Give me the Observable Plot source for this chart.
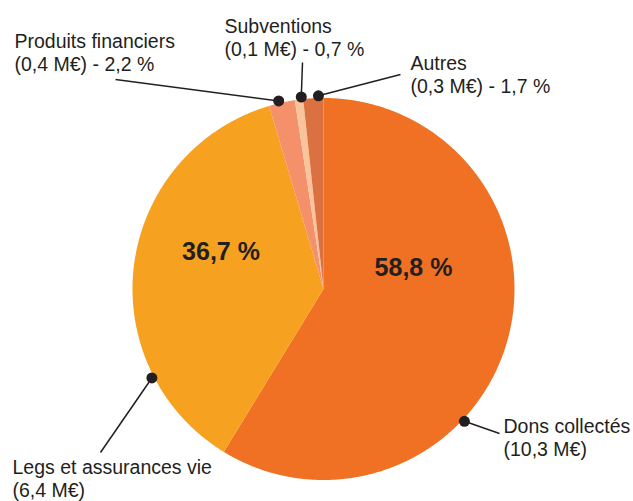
<!DOCTYPE html>
<html><head><meta charset="utf-8">
<script src="https://cdn.jsdelivr.net/npm/d3@7"></script>
<script src="https://cdn.jsdelivr.net/npm/@observablehq/plot@0.6"></script>
<style>html,body{margin:0;padding:0;background:#fff}</style>
</head><body><div id="chart"></div>
<script>
// ---- Data ----
const categories = ["Dons collectés", "Legs et assurances vie", "Produits financiers", "Subventions", "Autres"];
const amounts = ["10,3", "6,4", "0,4", "0,1", "0,3"];          // M€
const percents = [58.8, 36.7, 2.2, 0.7, 1.7];                   // %
const showPercentInLabel = [false, false, true, true, true];
const showPercentInside = [true, true, false, false, false];

// ---- Style / layout ----
const colors = ["#F07124", "#F6A11F", "#F4916B", "#F9C49C", "#DB7140"];
const W = 633, H = 501, CX = 323, CY = 288.5, R = 191;
const ink = "#231F20";
// pixel layout of annotations (anchor angle on rim in degrees, line end, text top-left)
const labelLayout = [
  {angle: 133.2, end: [499, 433], text: [503, 417]},
  {angle: 242.6, end: [100, 452], text: [12, 458]},
  {angle: 346.6, end: [115, 79],  text: [14, 32]},
  {angle: 353.4, end: [302, 62],  text: [224, 17]},
  {angle: 358.5, end: [400, 74],  text: [410, 54]}
];
const insideLayout = [[413, 267], [220.5, 251]];

const fmt = v => v.toFixed(1).replace(".", ",");
const ux = px => (px - CX) / R;
const uy = py => (CY - py) / R;

const data = categories.map((c, i) => ({cat: c, amt: amounts[i], pct: percents[i]}));
const arcs = d3.pie().sort(null).value(d => d.pct).startAngle(0).endAngle(2 * Math.PI)(data);

const slicePts = [];
for (const a of arcs) {
  const step = Math.PI / 720;
  slicePts.push({cat: a.data.cat, x: 0, y: 0});
  const n = Math.max(2, Math.ceil((a.endAngle - a.startAngle) / step));
  for (let k = 0; k <= n; k++) {
    const t = a.startAngle + (a.endAngle - a.startAngle) * k / n;
    slicePts.push({cat: a.data.cat, x: Math.sin(t), y: Math.cos(t)});
  }
  slicePts.push({cat: a.data.cat, x: 0, y: 0});
}

const anns = data.map((d, i) => {
  const L = labelLayout[i];
  const t = L.angle * Math.PI / 180, rr = 1.012;
  const txt = showPercentInLabel[i]
    ? `${d.cat}\n(${d.amt} M€) - ${fmt(d.pct)} %`
    : `${d.cat}\n(${d.amt} M€)`;
  return {
    x1: Math.sin(t) * rr, y1: Math.cos(t) * rr,
    x2: ux(L.end[0]), y2: uy(L.end[1]),
    tx: ux(L.text[0]), ty: uy(L.text[1]), txt
  };
});
const inside = data.map((d, i) => ({d, i})).filter(o => showPercentInside[o.i])
  .map(o => ({x: ux(insideLayout[o.i][0]), y: uy(insideLayout[o.i][1]), txt: `${fmt(o.d.pct)} %`}));

const chart = Plot.plot({
  width: W, height: H,
  margin: 0,
  x: {domain: [-CX / R, (W - CX) / R], axis: null},
  y: {domain: [-(H - CY) / R, CY / R], axis: null},
  color: {domain: categories, range: colors},
  style: {fontFamily: "'Liberation Sans', Arial, sans-serif", background: "#fff"},
  marks: [
    Plot.line(slicePts, {x: "x", y: "y", z: "cat", fill: "cat", stroke: "none", curve: "linear"}),
    Plot.link(anns, {x1: "x1", y1: "y1", x2: "x2", y2: "y2", stroke: ink, strokeWidth: 1.5}),
    Plot.dot(anns, {x: "x1", y: "y1", r: 5.5, fill: ink, stroke: "none"}),
    Plot.text(anns, {x: "tx", y: "ty", text: "txt", textAnchor: "start", lineAnchor: "top",
      fontSize: 19.5, lineHeight: 1.15, fill: ink}),
    Plot.text(inside, {x: "x", y: "y", text: "txt", fontSize: 25, fontWeight: "bold", fill: ink})
  ]
});
document.getElementById("chart").appendChild(chart);
</script>
</body></html>
